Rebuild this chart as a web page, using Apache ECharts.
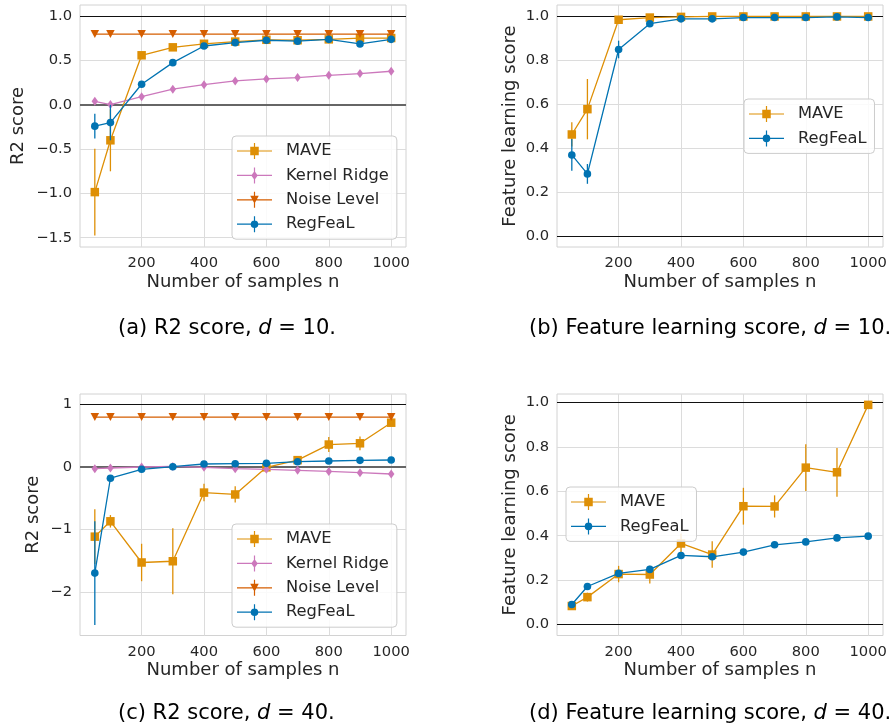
<!DOCTYPE html>
<html>
<head>
<meta charset="utf-8">
<script src="https://cdn.jsdelivr.net/npm/echarts@6/dist/echarts.min.js"></script>
<style>
html,body{margin:0;padding:0;background:#fff;}
#chart{width:893px;height:728px;}
</style>
</head>
<body>
<div id="chart"></div>
<script>
// ---- data ----
const nSamples = [50, 100, 200, 300, 400, 500, 600, 700, 800, 900, 1000];

// (a) R2 score, d = 10
const a_mave     = [-0.985, -0.40, 0.56, 0.65, 0.69, 0.715, 0.735, 0.73, 0.74, 0.755, 0.755];
const a_mave_err = [0.49, 0.35, 0.02, 0.02, 0.02, 0.015, 0.015, 0.015, 0.015, 0.015, 0.015];
const a_kr       = [0.04, 0.003, 0.093, 0.177, 0.228, 0.27, 0.293, 0.308, 0.334, 0.353, 0.38];
const a_kr_err   = [0.02, 0.02, 0.02, 0.02, 0.02, 0.02, 0.02, 0.02, 0.02, 0.02, 0.02];
const a_noise    = [0.8, 0.8, 0.8, 0.8, 0.8, 0.8, 0.8, 0.8, 0.8, 0.8, 0.8];
const a_noise_err= [0.005, 0.005, 0.005, 0.005, 0.005, 0.005, 0.005, 0.005, 0.005, 0.005, 0.005];
const a_reg      = [-0.24, -0.20, 0.233, 0.477, 0.665, 0.703, 0.73, 0.72, 0.74, 0.688, 0.74];
const a_reg_err  = [0.14, 0.2, 0.02, 0.02, 0.015, 0.015, 0.01, 0.01, 0.01, 0.01, 0.01];

// (b) Feature learning score, d = 10
const b_mave     = [0.461, 0.576, 0.982, 0.992, 0.995, 0.997, 0.997, 0.997, 0.997, 0.997, 0.997];
const b_mave_err = [0.055, 0.137, 0.008, 0.004, 0.003, 0.002, 0.002, 0.002, 0.002, 0.002, 0.002];
const b_reg      = [0.368, 0.282, 0.847, 0.964, 0.986, 0.986, 0.992, 0.992, 0.992, 0.995, 0.992];
const b_reg_err  = [0.072, 0.045, 0.04, 0.008, 0.005, 0.005, 0.003, 0.003, 0.003, 0.003, 0.003];

// (c) R2 score, d = 40
const c_mave     = [-1.116, -0.87, -1.53, -1.51, -0.41, -0.44, -0.005, 0.11, 0.36, 0.38, 0.71];
const c_mave_err = [0.44, 0.10, 0.30, 0.53, 0.14, 0.13, 0.08, 0.05, 0.12, 0.11, 0.05];
const c_kr       = [-0.027, -0.016, 0.0, 0.01, -0.005, -0.027, -0.037, -0.053, -0.07, -0.09, -0.112];
const c_kr_err   = [0.02, 0.02, 0.02, 0.02, 0.02, 0.02, 0.02, 0.02, 0.02, 0.02, 0.02];
const c_noise    = [0.8, 0.8, 0.8, 0.8, 0.8, 0.8, 0.8, 0.8, 0.8, 0.8, 0.8];
const c_noise_err= [0.005, 0.005, 0.005, 0.005, 0.005, 0.005, 0.005, 0.005, 0.005, 0.005, 0.005];
const c_reg      = [-1.70, -0.18, -0.037, 0.005, 0.048, 0.053, 0.059, 0.085, 0.096, 0.107, 0.112];
const c_reg_err  = [0.83, 0.03, 0.02, 0.02, 0.01, 0.01, 0.01, 0.01, 0.01, 0.01, 0.01];

// (d) Feature learning score, d = 40
const d_mave     = [0.083, 0.123, 0.227, 0.225, 0.365, 0.315, 0.533, 0.532, 0.707, 0.686, 0.99];
const d_mave_err = [0.01, 0.02, 0.037, 0.04, 0.045, 0.06, 0.083, 0.05, 0.105, 0.11, 0.008];
const d_reg      = [0.09, 0.171, 0.23, 0.248, 0.311, 0.305, 0.326, 0.359, 0.372, 0.39, 0.398];
const d_reg_err  = [0.008, 0.008, 0.008, 0.008, 0.008, 0.008, 0.008, 0.008, 0.008, 0.008, 0.008];

const xTicks = [200, 400, 600, 800, 1000];
const captions = [
  ['(a) R2 score, ', 'd', ' = 10.'],
  ['(b) Feature learning score, ', 'd', ' = 10.'],
  ['(c) R2 score, ', 'd', ' = 40.'],
  ['(d) Feature learning score, ', 'd', ' = 40.']
];

// ---- styling ----
const FONT = 'DejaVu Sans';
const TXT = '#262626';
const GRIDC = '#dcdcdc';
const COL = {MAVE: '#de8f05', 'Kernel Ridge': '#cc78bc', 'Noise Level': '#d55e00', RegFeaL: '#0173b2'};
const SYM = {
  MAVE: {symbol: 'rect', size: 8.5, rotate: 0},
  'Kernel Ridge': {symbol: 'diamond', size: [6.5, 9], rotate: 0},
  'Noise Level': {symbol: 'triangle', size: [8.5, 8], rotate: 180},
  RegFeaL: {symbol: 'circle', size: 7.6, rotate: 0}
};
const HB = 'M0 7.4 L35 7.4 L35 8.6 L0 8.6 Z M16.9 0 L18.1 0 L18.1 16 L16.9 16 Z ';
const ICON = {
  MAVE: 'path://' + HB + 'M13.25 3.75 L21.75 3.75 L21.75 12.25 L13.25 12.25 Z',
  'Kernel Ridge': 'path://' + HB + 'M17.5 3.5 L20.75 8 L17.5 12.5 L14.25 8 Z',
  'Noise Level': 'path://' + HB + 'M13.25 4 L21.75 4 L17.5 12 Z',
  RegFeaL: 'path://' + HB + 'M13.7 8 A3.8 3.8 0 1 1 21.3 8 A3.8 3.8 0 1 1 13.7 8 Z'
};

const panels = [
  {grid: {left: 80, top: 5, width: 326, height: 242}, y: [-1.605, 1.128, 0.5, 1], yName: 'R2 score', nameGap: 53,
   series: [['MAVE', a_mave, a_mave_err], ['Kernel Ridge', a_kr, a_kr_err], ['Noise Level', a_noise, a_noise_err], ['RegFeaL', a_reg, a_reg_err]],
   zeroStyle: {color: '#666', width: 2},
   legend: {left: 232, top: 136}},
  {grid: {left: 557, top: 5, width: 326, height: 242}, y: [-0.05, 1.049, 0.2, 1], yName: 'Feature learning score', nameGap: 38,
   series: [['MAVE', b_mave, b_mave_err], ['RegFeaL', b_reg, b_reg_err]],
   zeroStyle: {color: '#111', width: 1},
   legend: {left: 744, top: 99}},
  {grid: {left: 80, top: 394, width: 326, height: 241.5}, y: [-2.70, 1.17, 1, 0], yName: 'R2 score', nameGap: 38,
   series: [['MAVE', c_mave, c_mave_err], ['Kernel Ridge', c_kr, c_kr_err], ['Noise Level', c_noise, c_noise_err], ['RegFeaL', c_reg, c_reg_err]],
   zeroStyle: {color: '#666', width: 2},
   legend: {left: 232, top: 524}},
  {grid: {left: 557, top: 394, width: 326, height: 241.5}, y: [-0.05, 1.039, 0.2, 1], yName: 'Feature learning score', nameGap: 38,
   series: [['MAVE', d_mave, d_mave_err], ['RegFeaL', d_reg, d_reg_err]],
   zeroStyle: {color: '#111', width: 1},
   legend: {left: 566, top: 487}}
];
const captionPos = [{left: 118, top: 318}, {left: 529, top: 318}, {left: 118, top: 703}, {left: 529, top: 703}];

function fmtY(v, step, dec) {
  const k = Math.round(v / step);
  if (Math.abs(k * step - v) > 1e-6) return '';
  const s = Math.abs(k * step).toFixed(dec);
  return (k < 0 ? '\u2212' : '') + s;
}

const option = {
  animation: false,
  backgroundColor: '#fff',
  textStyle: {fontFamily: FONT},
  grid: [], xAxis: [], yAxis: [], series: [], legend: [], title: []
};

panels.forEach((p, gi) => {
  option.grid.push(Object.assign({show: true, borderColor: '#d2d2d2', borderWidth: 1, backgroundColor: '#fff'}, p.grid));
  option.xAxis.push({
    type: 'value', gridIndex: gi, min: 2.5, max: 1047.5,
    name: 'Number of samples n', nameLocation: 'middle', nameGap: 26,
    nameTextStyle: {fontSize: 18, color: TXT, fontFamily: FONT},
    axisLine: {show: false}, axisTick: {show: false},
    axisLabel: {customValues: xTicks, formatter: v => String(Math.round(v)), fontSize: 14.7, color: TXT, fontFamily: FONT, margin: 9},
    splitLine: {show: false}
  });
  const [ymin, ymax, step, dec] = p.y;
  const yTicks = [];
  for (let k = Math.ceil(ymin / step); k * step <= ymax + 1e-9; k++) yTicks.push(+(k * step).toFixed(6));
  option.yAxis.push({
    type: 'value', gridIndex: gi, min: ymin, max: ymax,
    name: p.yName, nameLocation: 'middle', nameGap: p.nameGap,
    nameTextStyle: {fontSize: 18, color: TXT, fontFamily: FONT},
    axisLine: {show: false}, axisTick: {show: false},
    axisLabel: {customValues: yTicks, formatter: v => fmtY(v, step, dec), fontSize: 14.7, color: TXT, fontFamily: FONT, margin: 8},
    splitLine: {show: false}
  });
  // grid lines + reference lines
  const ml = [];
  xTicks.forEach(t => ml.push({xAxis: t, lineStyle: {color: GRIDC, width: 1, type: 'solid'}}));
  yTicks.forEach(t => { if (t !== 0 && t !== 1) ml.push({yAxis: t, lineStyle: {color: GRIDC, width: 1, type: 'solid'}}); });
  ml.push({yAxis: 1, lineStyle: {color: '#111', width: 1.1, type: 'solid'}});
  ml.push({yAxis: 0, lineStyle: Object.assign({type: 'solid'}, p.zeroStyle)});
  option.series.push({
    type: 'line', xAxisIndex: gi, yAxisIndex: gi, data: [], z: 1, silent: true,
    markLine: {z: 1, silent: true, symbol: ['none', 'none'], label: {show: false}, animation: false, data: ml}
  });
  let z = 2;
  p.series.forEach(([name, vals, errs]) => {
    const color = COL[name];
    option.series.push({
      type: 'custom', name: name, xAxisIndex: gi, yAxisIndex: gi, z: z,
      encode: {x: 0, y: [1, 2]},
      data: nSamples.map((x, i) => [x, vals[i] - errs[i], vals[i] + errs[i]]),
      renderItem: (params, api) => {
        const p1 = api.coord([api.value(0), api.value(1)]);
        const p2 = api.coord([api.value(0), api.value(2)]);
        return {type: 'line', shape: {x1: p1[0], y1: p1[1], x2: p2[0], y2: p2[1]}, style: {stroke: color, lineWidth: 1.3}};
      },
      silent: true
    });
    const s = SYM[name];
    option.series.push({
      type: 'line', name: name, xAxisIndex: gi, yAxisIndex: gi, z: z,
      data: nSamples.map((x, i) => [x, vals[i]]),
      symbol: s.symbol, symbolSize: s.size, symbolRotate: s.rotate, showSymbol: true,
      lineStyle: {color: color, width: 1.3},
      itemStyle: {color: color, borderWidth: 0},
      silent: true
    });
    z += 1;
  });
  option.legend.push({
    z: 30, zlevel: 0,
    orient: 'vertical', left: p.legend.left, top: p.legend.top,
    padding: [7, 8, 7, 5], itemGap: 8.4, itemWidth: 35, itemHeight: 16,
    backgroundColor: 'rgba(255,255,255,0.85)', borderColor: '#cccccc', borderWidth: 1, borderRadius: 4,
    textStyle: {fontSize: 16.3, color: TXT, fontFamily: FONT, padding: [0, 0, 0, 9]},
    selectedMode: false,
    data: p.series.map(([name]) => ({name: name, icon: ICON[name], itemStyle: {color: COL[name], borderWidth: 0}}))
  });
  const c = captions[gi];
  option.title.push({
    left: captionPos[gi].left, top: captionPos[gi].top, padding: 0,
    text: c[0] + '{i|' + c[1] + '}' + c[2],
    textStyle: {fontSize: 21, fontWeight: 'normal', color: '#000', fontFamily: FONT,
      rich: {i: {fontSize: 21, fontStyle: 'italic', color: '#000', fontFamily: FONT}}}
  });
});

const chart = echarts.init(document.getElementById('chart'), null, {renderer: 'canvas'});
chart.setOption(option);
</script>
</body>
</html>
